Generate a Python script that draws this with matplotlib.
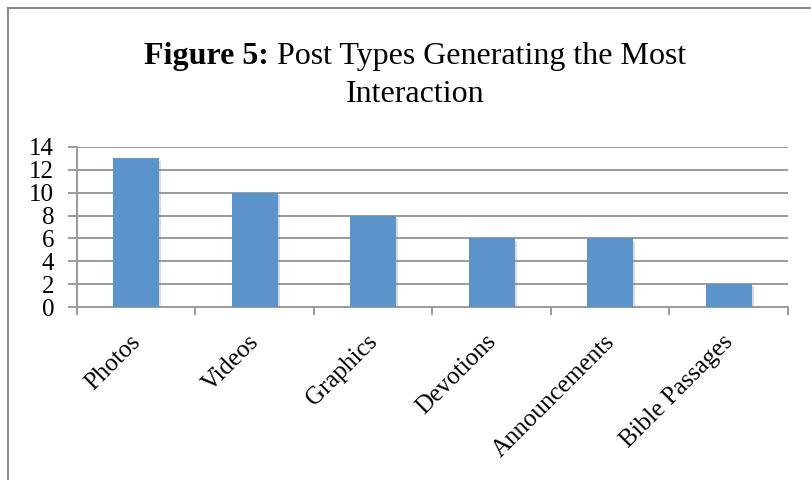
import matplotlib
matplotlib.use("Agg")
import matplotlib.pyplot as plt
import matplotlib.patheffects as pe
import matplotlib.transforms as mtransforms
from matplotlib.lines import Line2D
import numpy as np

# data
categories = ["Photos", "Videos", "Graphics", "Devotions", "Announcements", "Bible Passages"]
counts = [13, 10, 8, 6, 6, 2]
yticks = [0, 2, 4, 6, 8, 10, 12, 14]

plt.rcParams["font.family"] = ["Liberation Serif", "DejaVu Serif"]

W, H = 812, 480
fig = plt.figure(figsize=(W / 100, H / 100), dpi=100)
ax = fig.add_axes([77 / W, 1 - 307 / H, (788 - 77) / W, (307 - 147) / H])

x = np.arange(len(categories))
bars = ax.bar(x, counts, width=0.39, color="#5b93cb", zorder=3)
for b in bars:
    b.set_path_effects([pe.SimplePatchShadow(offset=(1.5, -1.5), shadow_rgbFace="#888888", alpha=0.3),
                        pe.Normal()])

ax.set_xlim(-0.5, len(categories) - 0.5)
ax.set_ylim(0, 14)
ax.set_yticks(yticks)
ax.set_yticklabels([str(v) for v in yticks], fontsize=18)
ax.yaxis.grid(True, color="#9a9a9a", linewidth=1.4, zorder=0)
ax.set_axisbelow(True)

ax.set_xticks(x)
ax.set_xticklabels(categories, rotation=45, ha="right", fontsize=18)
ax.set_xticks(np.arange(-0.5, len(categories)), minor=True)
ax.tick_params(axis="x", which="major", length=0, pad=17)
ax.tick_params(axis="x", which="minor", length=6, width=1.4, color="#9a9a9a")
ax.tick_params(axis="y", length=6.5, width=1.4, color="#9a9a9a", pad=10)

# nudge rotated labels to the right
shift = mtransforms.ScaledTranslation(0.09, 0, fig.dpi_scale_trans)
for lbl in ax.get_xticklabels():
    lbl.set_transform(lbl.get_transform() + shift)

for s in ["top", "right"]:
    ax.spines[s].set_visible(False)
for s in ["left", "bottom"]:
    ax.spines[s].set_color("#9a9a9a")
    ax.spines[s].set_linewidth(1.4)

# title: bold prefix + regular text, centred as one line
renderer = fig.canvas.get_renderer()
t_bold = fig.text(0, 1 - 64 / H, "Figure 5:", fontsize=23, fontweight="bold", va="baseline")
t_reg = fig.text(0, 1 - 64 / H, " Post Types Generating the Most", fontsize=23, va="baseline")
wb = t_bold.get_window_extent(renderer).width
wr = t_reg.get_window_extent(renderer).width
x0 = 415 - (wb + wr) / 2
t_bold.set_x(x0 / W)
t_reg.set_x((x0 + wb) / W)
fig.text(415 / W, 1 - 102 / H, "Interaction", fontsize=23, ha="center", va="baseline")

# frame around chart
fig.add_artist(Line2D([8.5 / W, 8.5 / W], [0, 1 - 7.5 / H], color="#8c8c8c", lw=1.5))
fig.add_artist(Line2D([8.5 / W, 1], [1 - 7.5 / H, 1 - 7.5 / H], color="#8c8c8c", lw=1.5))

fig.savefig("out.png", dpi=100)
